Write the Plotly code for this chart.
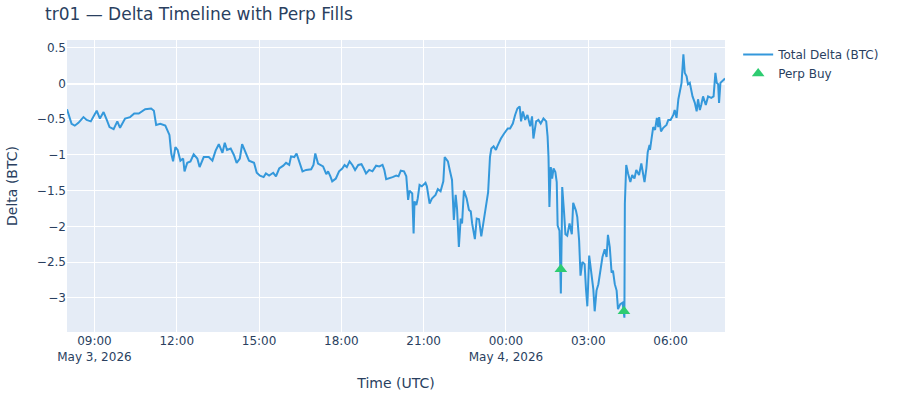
import plotly.graph_objects as go

# total delta samples (May 3 part, then May 4 part)
may3_times = [
    "08:00", "08:07", "08:10", "08:17", "08:25", "08:36", "08:43", "08:52", "09:05", "09:12",
    "09:20", "09:27", "09:33", "09:42", "09:50", "09:56", "10:07", "10:18", "10:27", "10:37",
    "10:51", "11:04", "11:10", "11:15", "11:24", "11:35", "11:40", "11:44", "11:48", "11:52",
    "11:57", "12:02", "12:08", "12:14", "12:17", "12:23", "12:30", "12:37", "12:45", "12:50",
    "12:59", "13:10", "13:18", "13:25", "13:32", "13:40", "13:45", "13:50", "13:58", "14:05",
    "14:11", "14:18", "14:23", "14:31", "14:38", "14:49", "14:55", "15:02", "15:10", "15:15",
    "15:22", "15:31", "15:37", "15:44", "15:53", "15:59", "16:06", "16:10", "16:17", "16:22",
    "16:28", "16:35", "16:43", "16:54", "16:59", "17:03", "17:09", "17:20", "17:27", "17:31",
    "17:36", "17:40", "17:48", "17:55", "18:02", "18:07", "18:12", "18:18", "18:24", "18:30",
    "18:37", "18:44", "18:49", "18:54", "19:01", "19:08", "19:16", "19:23", "19:30", "19:34",
    "19:38", "19:45", "19:52", "20:00", "20:05", "20:10", "20:17", "20:22", "20:25", "20:26",
    "20:29", "20:35", "20:38", "20:40", "20:44", "20:47", "20:51", "20:56", "21:04", "21:07",
    "21:13", "21:18", "21:26", "21:31", "21:37", "21:43", "21:46", "21:53", "21:57", "22:02",
    "22:06", "22:10", "22:13", "22:17", "22:21", "22:24", "22:28", "22:34", "22:39", "22:43",
    "22:46", "22:52", "22:56", "23:01", "23:06", "23:11", "23:16", "23:19", "23:21", "23:25",
    "23:28", "23:33", "23:38", "23:41", "23:49", "23:56",
]
may3_delta = [
    -0.36, -0.51, -0.565, -0.59, -0.55, -0.47, -0.51, -0.53, -0.38, -0.49,
    -0.40, -0.51, -0.61, -0.64, -0.53, -0.62, -0.49, -0.47, -0.42, -0.42,
    -0.36, -0.35, -0.38, -0.58, -0.565, -0.59, -0.66, -0.72, -0.98, -1.09,
    -0.89, -0.93, -1.08, -1.05, -1.23, -1.11, -1.09, -0.99, -1.05, -1.17,
    -1.03, -1.03, -1.08, -0.94, -0.85, -0.97, -0.83, -0.93, -0.91, -1.00,
    -1.11, -1.05, -0.85, -0.98, -1.08, -1.11, -1.25, -1.29, -1.31, -1.26,
    -1.29, -1.25, -1.30, -1.19, -1.15, -1.11, -1.14, -1.02, -1.03, -0.98,
    -1.09, -1.23, -1.21, -1.20, -1.14, -0.98, -1.12, -1.16, -1.27, -1.23,
    -1.30, -1.37, -1.33, -1.23, -1.19, -1.14, -1.17, -1.09, -1.14, -1.21,
    -1.14, -1.13, -1.19, -1.26, -1.21, -1.23, -1.15, -1.16, -1.14, -1.21,
    -1.34, -1.33, -1.31, -1.29, -1.30, -1.22, -1.23, -1.30, -1.49, -1.63,
    -1.50, -1.54, -2.10, -1.65, -1.70, -1.61, -1.42, -1.44, -1.39, -1.44,
    -1.68, -1.61, -1.56, -1.48, -1.51, -1.37, -1.03, -1.09, -1.21, -1.35,
    -1.91, -1.56, -1.75, -2.29, -1.89, -1.96, -1.50, -1.61, -1.77, -1.79,
    -1.96, -2.18, -1.89, -1.90, -2.14, -1.91, -1.75, -1.59, -1.52, -1.03,
    -0.91, -0.88, -0.93, -0.88, -0.77, -0.70,
]
may4_times = [
    "00:04", "00:09", "00:15", "00:20", "00:25", "00:30", "00:33", "00:37", "00:42", "00:47",
    "00:53", "00:57", "01:00", "01:06", "01:11", "01:16", "01:22", "01:28", "01:31", "01:33",
    "01:35", "01:38", "01:41", "01:44", "01:48", "01:51", "01:53", "01:57", "01:59", "02:00",
    "02:02", "02:03", "02:07", "02:10", "02:14", "02:19", "02:24", "02:27", "02:33", "02:36",
    "02:40", "02:43", "02:47", "02:52", "02:55", "02:58", "03:02", "03:07", "03:11", "03:14",
    "03:18", "03:22", "03:27", "03:31", "03:36", "03:40", "03:43", "03:47", "03:51", "03:54",
    "03:58", "04:02", "04:05", "04:10", "04:15", "04:17", "04:19", "04:20", "04:23", "04:27",
    "04:32", "04:36", "04:41", "04:45", "04:51", "04:56", "05:00", "05:03", "05:07", "05:10",
    "05:14", "05:15", "05:18", "05:22", "05:26", "05:30", "05:33", "05:35", "05:39", "05:44",
    "05:51", "05:55", "06:00", "06:06", "06:09", "06:13", "06:17", "06:20", "06:24", "06:28",
    "06:31", "06:35", "06:38", "06:42", "06:48", "06:53", "06:57", "07:00", "07:04", "07:07",
    "07:11", "07:17", "07:22", "07:29", "07:34", "07:38", "07:41", "07:44", "07:46", "07:49",
    "07:52", "07:59",
]
may4_delta = [
    -0.63, -0.63, -0.56, -0.44, -0.35, -0.32, -0.53, -0.39, -0.51, -0.44,
    -0.60, -0.46, -0.77, -0.53, -0.51, -0.56, -0.49, -0.53, -0.74, -1.03,
    -1.73, -1.17, -1.33, -1.19, -1.24, -1.38, -1.99, -2.06, -2.58, -2.94,
    -2.06, -1.45, -1.80, -2.11, -2.13, -1.96, -2.11, -1.67, -1.78, -1.87,
    -2.20, -2.69, -2.50, -2.53, -2.88, -3.12, -2.41, -2.72, -2.88, -3.19,
    -2.90, -2.81, -2.58, -2.43, -2.32, -2.43, -2.12, -2.29, -2.65, -2.62,
    -2.81, -2.90, -3.16, -3.09, -3.07, -3.19, -3.28, -1.68, -1.14, -1.26,
    -1.38, -1.28, -1.33, -1.21, -1.28, -1.12, -1.26, -1.38, -1.19, -0.96,
    -0.86, -0.93, -0.79, -0.61, -0.65, -0.48, -0.61, -0.47, -0.67, -0.62,
    -0.58, -0.51, -0.51, -0.44, -0.37, -0.48, -0.22, -0.11, 0.01, 0.41,
    0.15, 0.10, -0.01, 0.01, -0.18, -0.27, -0.39, -0.22, -0.37, -0.30,
    -0.18, -0.30, -0.18, -0.20, -0.18, 0.15, 0.01, -0.01, -0.27, 0.01,
    0.03, 0.07,
]

# perp buy fills
fill_times = ["2026-05-04 02:00", "2026-05-04 04:18"]
fill_delta = [-2.60, -3.19]

times = ["2026-05-03 " + t for t in may3_times] + ["2026-05-04 " + t for t in may4_times]
delta = may3_delta + may4_delta

fig = go.Figure()
fig.add_trace(go.Scatter(x=times, y=delta, mode="lines", name="Total Delta (BTC)",
                         line=dict(color="#3498db", width=2)))
fig.add_trace(go.Scatter(x=fill_times, y=fill_delta, mode="markers", name="Perp Buy",
                         marker=dict(symbol="triangle-up", size=11, color="#2ecc71")))

fig.update_layout(
    template="plotly",
    width=900, height=400,
    font=dict(family="Verdana, DejaVu Sans, sans-serif"),
    title=dict(text="tr01 — Delta Timeline with Perp Fills"),
    xaxis_title="Time (UTC)",
    yaxis_title="Delta (BTC)",
    margin=dict(l=67, r=175, t=40, b=68),
)
fig.update_xaxes(range=["2026-05-03 08:00", "2026-05-04 07:59"])
fig.update_yaxes(range=[-3.48, 0.61])

# drop the browser's default body margin so the figure sits at the page corner
fig.write_html("out.html", config={"displayModeBar": False},
               post_script="document.body.style.margin = '0';")
